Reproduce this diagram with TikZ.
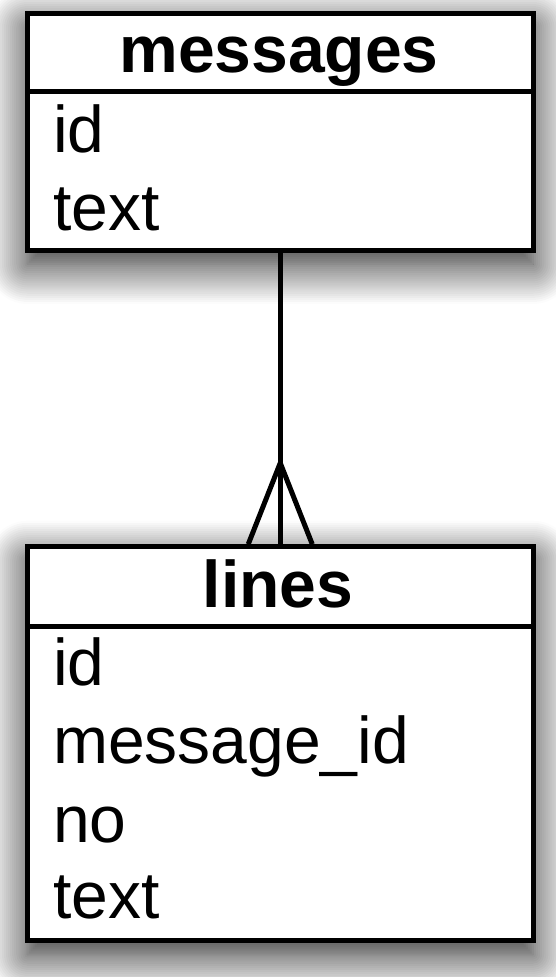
\documentclass[tikz,border=0pt]{standalone}
\usepackage{fontspec}
\setmainfont{Liberation Sans}
\usetikzlibrary{shadows.blur}
\tikzset{
  table/.style={draw, line width=5pt, fill=white, minimum width=505.5pt,
    blur shadow={shadow xshift=0pt, shadow yshift=-14pt, shadow blur radius=40pt, shadow blur steps=20, shadow opacity=90}},
  title/.style={font=\fontsize{66}{79}\selectfont\bfseries, anchor=base, inner sep=0pt},
  field/.style={font=\fontsize{66}{79}\selectfont, anchor=base west, inner sep=0pt},
}
\begin{document}
\begin{tikzpicture}[x=1pt,y=-1pt]
\useasboundingbox (0,0) rectangle (555,977);
% tables
\node[table, minimum height=236.5pt] (messages) at (280.25,131.75) {};
\node[table, minimum height=393.8pt] (lines) at (280.25,743.6) {};
\path[draw,line width=5pt] (27.5,91.5) -- (533,91.5);
\path[draw,line width=5pt] (27.5,626) -- (533,626);
% titles
\node[title] (mtitle) at (279,72) {messages};
\node[title] (ltitle) at (278,607) {lines};
% fields
\node[field] (mid) at (53,152) {id};
\node[field] (mtext) at (53,230) {text};
\node[field] (lid) at (53,685) {id};
\node[field] (lmsg) at (53,763) {message\_id};
\node[field] (lno) at (53,842) {no};
\node[field] (ltext) at (53,918) {text};
% relation
\coordinate (crow) at (280.25,463);
\path[draw,line width=5pt] (messages.south) -- (lines.north);
\path[draw,line width=5pt] (crow) -- ([xshift=-32pt]lines.north);
\path[draw,line width=5pt] (crow) -- ([xshift=32pt]lines.north);
\end{tikzpicture}
\end{document}
